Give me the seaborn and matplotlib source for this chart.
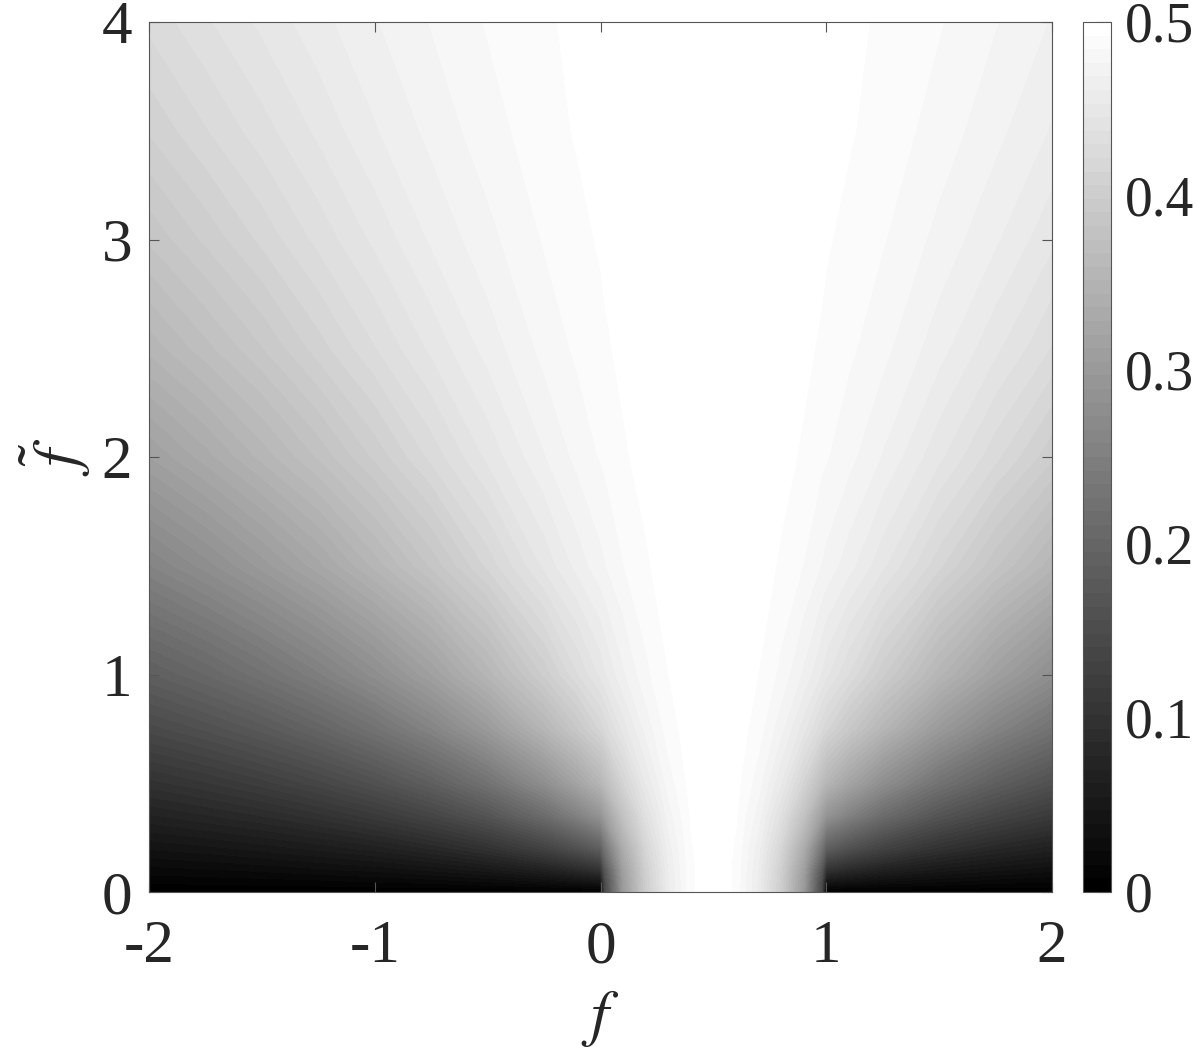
import numpy as np
import matplotlib
matplotlib.use("Agg")
import matplotlib.pyplot as plt
import seaborn as sns

f_vals = [-2, -1.75, -1.5, -1.25, -1, -0.75, -0.5, -0.25, -0.1, 0, 0.02, 0.1, 0.2, 0.3, 0.4, 0.5,
          0.6, 0.7, 0.8, 0.9, 0.98, 1, 1.1, 1.25, 1.5, 1.75, 2]
ftilde_vals = [0, 0.05, 0.1, 0.2, 0.35, 0.5, 0.75, 1, 1.5, 2, 2.5, 3, 3.5, 4]

row_00 = [0, 0, 0, 0, 0, 0, 0, 0, 0, 0, .14, .30, .40, .458, .49, .50, .49, .458, .40, .30, .14, 0, 0, 0, 0, 0, 0]
row_01 = [.010, .011, .0125, .014, .017, .020, .025, .033, .041, .05, .148, .303, .401, .459, .49, .50, .49, .459, .401, .303, .148, .05, .041, .033, .025, .020, .017]
row_02 = [.020, .022, .025, .029, .033, .040, .050, .066, .082, .098, .169, .310, .404, .460, .49, .50, .49, .460, .404, .310, .169, .098, .082, .066, .050, .040, .033]
row_03 = [.040, .044, .050, .057, .066, .079, .098, .129, .158, .186, .227, .335, .415, .464, .491, .50, .491, .464, .415, .335, .227, .186, .158, .129, .098, .079, .066]
row_04 = [.069, .077, .086, .098, .114, .135, .165, .211, .252, .287, .309, .378, .435, .472, .493, .50, .493, .472, .435, .378, .309, .287, .252, .211, .165, .135, .114]
row_05 = [.098, .108, .121, .137, .158, .186, .224, .277, .320, .354, .367, .412, .453, .480, .495, .50, .495, .480, .453, .412, .367, .354, .320, .277, .224, .186, .158]
row_06 = [.144, .158, .175, .197, .224, .257, .300, .354, .390, .416, .423, .448, .471, .488, .497, .50, .497, .488, .471, .448, .423, .416, .390, .354, .300, .257, .224]
row_07 = [.186, .203, .224, .248, .277, .312, .354, .400, .429, .447, .452, .467, .482, .492, .498, .50, .498, .492, .482, .467, .452, .447, .429, .400, .354, .312, .277]
row_08 = [.257, .277, .300, .325, .354, .384, .416, .447, .464, .474, .476, .484, .491, .496, .499, .50, .499, .496, .491, .484, .476, .474, .464, .447, .416, .384, .354]
row_09 = [.312, .332, .354, .376, .400, .424, .447, .468, .479, .485, .486, .491, .495, .498, .499, .50, .499, .498, .495, .491, .486, .485, .479, .468, .447, .424, .400]
row_10 = [.354, .372, .390, .410, .429, .447, .464, .479, .486, .490, .491, .494, .496, .498, .50, .50, .50, .498, .496, .494, .491, .490, .486, .479, .464, .447, .429]
row_11 = [.384, .400, .416, .432, .447, .462, .474, .485, .490, .493, .494, .496, .498, .499, .50, .50, .50, .499, .498, .496, .494, .493, .490, .485, .474, .462, .447]
row_12 = [.407, .421, .434, .447, .460, .471, .481, .489, .493, .495, .495, .497, .498, .499, .50, .50, .50, .499, .498, .497, .495, .495, .493, .489, .481, .471, .460]
row_13 = [.424, .436, .447, .458, .468, .477, .485, .491, .494, .496, .496, .497, .499, .499, .50, .50, .50, .499, .499, .497, .496, .496, .494, .491, .485, .477, .468]

x_ticks = [-2, -1, 0, 1, 2]
y_ticks = [0, 1, 2, 3, 4]
cbar_ticks = [0, 0.1, 0.2, 0.3, 0.4, 0.5]
cbar_labels = ['0', '0.1', '0.2', '0.3', '0.4', '0.5']

sns.set_theme(style="white")
plt.rcParams['font.family'] = ['Liberation Serif', 'DejaVu Serif']
plt.rcParams['mathtext.fontset'] = 'stix'
plt.rcParams['axes.unicode_minus'] = False

Z = np.array([row_00, row_01, row_02, row_03, row_04, row_05, row_06,
              row_07, row_08, row_09, row_10, row_11, row_12, row_13])

W, H = 1200, 1053
fig = plt.figure(figsize=(W / 100, H / 100), dpi=100)
ax = fig.add_axes([149 / W, 1 - 892 / H, 903 / W, 870 / H])
cax = fig.add_axes([1083 / W, 1 - 892 / H, 28 / W, 870 / H])

# 64 flat steps like the colorbar in the picture
cmap = sns.color_palette("gray", as_cmap=True).resampled(64)
levels = np.linspace(0, 0.5, 65)
cs = ax.contourf(f_vals, ftilde_vals, Z, levels=levels, cmap=cmap, vmin=0, vmax=0.5)

text_col = '#262626'
edge_col = '#555555'
ax.set_xlim(-2, 2)
ax.set_ylim(0, 4)
ax.set_xticks(x_ticks)
ax.set_yticks(y_ticks)
ax.tick_params(direction='in', length=7, width=0.8, color=edge_col, top=True, right=True,
               bottom=True, left=True, labelsize=44, labelcolor=text_col, pad=20)
ax.tick_params(axis='y', pad=12)
for s in ax.spines.values():
    s.set_color(edge_col)
    s.set_linewidth(0.8)
ax.set_axisbelow(False)
ax.set_xlabel(r'$f$', fontsize=46, color=text_col, labelpad=9)
ax.set_ylabel(r'$\tilde{f}$', fontsize=46, color=text_col, labelpad=6)

cb = fig.colorbar(cs, cax=cax, ticks=cbar_ticks)
cb.ax.set_yticklabels(cbar_labels)
cb.ax.tick_params(direction='in', length=10, width=0.8, color=edge_col, right=True,
                  labelsize=40, labelcolor=text_col, pad=10)
cb.outline.set_edgecolor(edge_col)
cb.outline.set_linewidth(0.8)

fig.savefig("out.png", dpi=100)
